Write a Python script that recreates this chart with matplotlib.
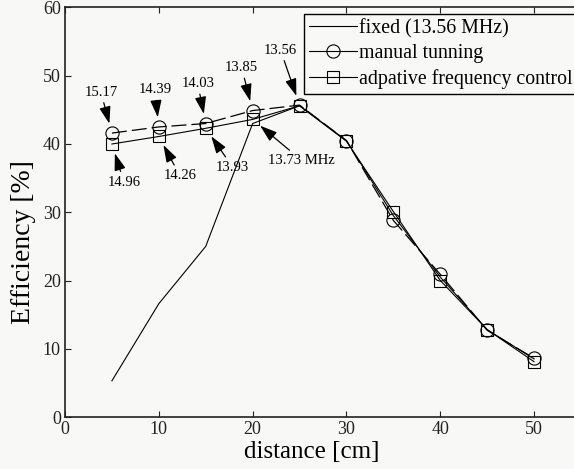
import numpy as np
import matplotlib.pyplot as plt
from matplotlib.lines import Line2D

plt.rcParams['font.family'] = ['Liberation Serif', 'DejaVu Serif']

distance = [5, 10, 15, 20, 25, 30, 35, 40, 45, 50]
fixed = [5.3, 16.6, 25.0, 43.0, 45.6, 40.5, 29.5, 20.5, 12.8, 8.5]
manual = [41.6, 42.5, 43.0, 44.9, 45.7, 40.5, 28.8, 20.9, 12.7, 8.6]
adaptive = [40.0, 41.1, 42.3, 43.6, 45.6, 40.4, 30.1, 20.0, 12.8, 8.1]

# frequency labels (manual above, adaptive below)
manual_freq = ['15.17', '14.39', '14.03', '13.85', '13.56']
adaptive_freq = ['14.96', '14.26', '13.93', '13.73 MHz']

bg = '#f8f8f6'
fig = plt.figure(figsize=(5.74, 4.69), dpi=100, facecolor=bg)
# right side of the axes runs past the image edge, as in the original
ax = fig.add_axes([65 / 574, 1 - 417 / 469, 516 / 574, 409.5 / 469], facecolor=bg)

ax.plot(distance, fixed, color='k', lw=0.8)
ax.plot(distance, manual, color='k', lw=0.9, marker='o', ms=9.5, mfc='none',
        mew=0.8, dashes=(12, 4))
ax.plot(distance, adaptive, color='k', lw=0.8, marker='s', ms=8, mfc='none', mew=0.8)

ax.set_xlim(0, 55)
ax.set_ylim(0, 60)
ax.set_xticks([0, 10, 20, 30, 40, 50])
ax.set_yticks([0, 10, 20, 30, 40, 50, 60])
ax.tick_params(direction='in', length=4, width=0.8, labelsize=13, top=True,
               right=True, pad=3, colors='#222222')
for s in ax.spines.values():
    s.set_linewidth(1.2)
    s.set_color('#222222')

ax.set_xlabel('distance [cm]', fontsize=18)
ax.set_ylabel('Efficiency [%]', fontsize=20)
ax.xaxis.label.set_va('center')
ax.yaxis.label.set_va('center')
ax.xaxis.set_label_coords(0.479, -0.085)
ax.yaxis.set_label_coords(-0.08, 0.427)

arrow = dict(arrowstyle='-|>,head_length=1.0,head_width=0.33', color='k', lw=0.9,
             shrinkA=1, shrinkB=7)
up_off = [(-11, 41), (-4, 37), (-8, 40), (-11, 43), (-19, 55)]
for i, lab in enumerate(manual_freq):
    ax.annotate(lab, (distance[i], manual[i]), xytext=up_off[i],
                textcoords='offset pixels', ha='center', va='center',
                fontsize=10.5, arrowprops=arrow)
down_off = [(12, -38), (21, -39), (27, -39), (49, -41)]
for i, lab in enumerate(adaptive_freq):
    ax.annotate(lab, (distance[i], adaptive[i]), xytext=down_off[i],
                textcoords='offset pixels', ha='center', va='center',
                fontsize=10.5, arrowprops=arrow)

handles = [
    Line2D([], [], color='k', lw=0.8),
    Line2D([], [], color='k', lw=0.8, marker='o', ms=9.5, mfc='none', mew=0.8),
    Line2D([], [], color='k', lw=0.8, marker='s', ms=8, mfc='none', mew=0.8),
]
labels = ['fixed (13.56 MHz)', 'manual tunning', 'adpative frequency control']
leg = ax.legend(handles, labels, loc='upper left', bbox_to_anchor=(0.463, 0.984),
                borderaxespad=0, fontsize=14.3, fancybox=False, framealpha=1,
                facecolor=bg, edgecolor='k', handlelength=2.4, handletextpad=0.1,
                labelspacing=0.3, borderpad=0.25)
leg.get_frame().set_linewidth(1.0)

plt.savefig('out.png', dpi=100, facecolor=bg)
